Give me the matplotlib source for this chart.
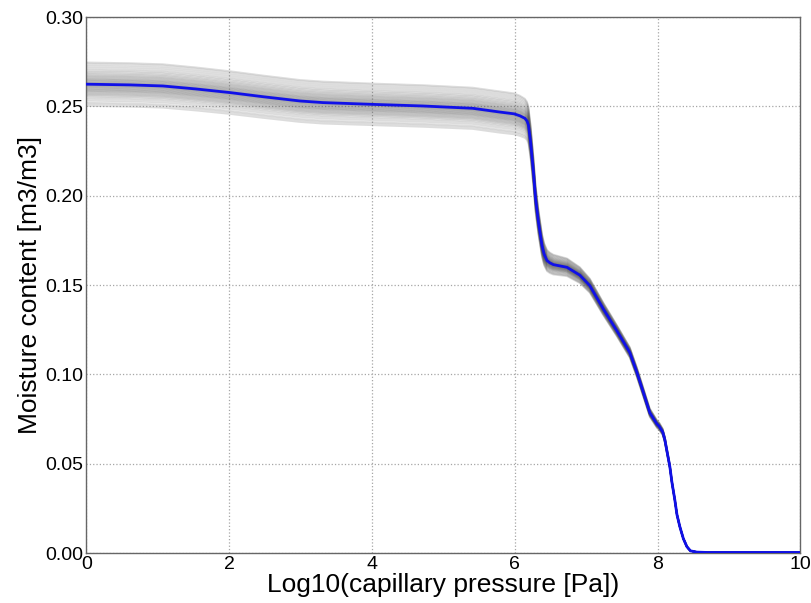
import matplotlib
matplotlib.use("Agg")
import matplotlib.pyplot as plt
import numpy as np

# Mean curve (log10 capillary pressure vs moisture content)
log_pc = [0.0, 0.61, 1.07, 1.54, 2.01, 2.47, 2.99, 3.31, 4.01, 4.71, 5.41, 5.79,
          5.99, 6.07, 6.14, 6.17, 6.19, 6.22, 6.26, 6.29, 6.33, 6.38, 6.41, 6.45,
          6.49, 6.54, 6.73, 6.91, 7.05, 7.24, 7.43, 7.61, 7.71, 7.80, 7.89, 7.99,
          8.02, 8.07, 8.10, 8.13, 8.17, 8.20, 8.24, 8.27, 8.31, 8.36, 8.41, 8.46,
          8.55, 8.70, 10.0]
mean_w = [0.2624, 0.2620, 0.2614, 0.2597, 0.2577, 0.2554, 0.2530, 0.2521, 0.2511,
          0.2502, 0.2489, 0.2468, 0.2458, 0.2447, 0.2433, 0.2418, 0.2395, 0.2302,
          0.2133, 0.1983, 0.1852, 0.1721, 0.1672, 0.1637, 0.1624, 0.1614, 0.1599,
          0.1555, 0.1496, 0.1365, 0.1243, 0.1122, 0.1010, 0.0898, 0.0785, 0.0722,
          0.0710, 0.0678, 0.0635, 0.0570, 0.0485, 0.0395, 0.0298, 0.0215, 0.0148,
          0.0080, 0.0035, 0.0012, 0.0005, 0.0003, 0.0003]
# Half-width of the ensemble envelope at each point
spread = [0.0122, 0.0122, 0.0122, 0.0121, 0.0120, 0.0119, 0.0118, 0.0118, 0.0117,
          0.0117, 0.0116, 0.0116, 0.0115, 0.0113, 0.0110, 0.0108, 0.0105, 0.0097,
          0.0088, 0.0080, 0.0073, 0.0066, 0.0063, 0.0060, 0.0058, 0.0056, 0.0050,
          0.0045, 0.0040, 0.0036, 0.0032, 0.0030, 0.0028, 0.0026, 0.0024, 0.0022,
          0.0021, 0.0019, 0.0017, 0.0014, 0.0012, 0.0010, 0.0008, 0.0006, 0.0004,
          0.0002, 0.0001, 0.0, 0.0, 0.0, 0.0]
# Relative offsets of the ensemble members within the envelope
member_offsets = [-1.0, -0.92, -0.85, -0.76, -0.68, -0.61, -0.55, -0.50, -0.46,
                  -0.42, -0.38, -0.34, -0.31, -0.28, -0.25, -0.22, -0.19, -0.16,
                  -0.13, -0.10, -0.08, -0.05, -0.03, 0.0, 0.02, 0.05, 0.07, 0.10,
                  0.13, 0.16, 0.19, 0.22, 0.25, 0.29, 0.33, 0.37, 0.41, 0.46,
                  0.51, 0.57, 0.63, 0.70, 0.78, 0.86, 0.94, 1.0]

x_ticks = [0, 2, 4, 6, 8, 10]
y_ticks = [0.00, 0.05, 0.10, 0.15, 0.20, 0.25, 0.30]

plt.rcParams['font.family'] = ['Liberation Sans', 'DejaVu Sans']

fig = plt.figure(figsize=(8.12, 6.03), dpi=100)
ax = fig.add_axes([0.1065, 0.0829, 0.8793, 0.8889])

x = np.array(log_pc)
m = np.array(mean_w)
s = np.array(spread)
for d in member_offsets:
    ax.plot(x, m + d * s, color='0.33', alpha=0.2, lw=1.2, zorder=2)

ax.plot(x, m, color='#1010e8', lw=2.0, zorder=3)

ax.set_xlim(0, 10)
ax.set_ylim(0, 0.30)
ax.set_xticks(x_ticks)
ax.set_yticks(y_ticks)
ax.set_xticklabels([str(t) for t in x_ticks])
ax.set_yticklabels([f"{t:.2f}" for t in y_ticks])
ax.tick_params(direction='in', length=0, labelsize=14, pad=2)
ax.grid(True, linestyle=':', color='0.65', lw=0.9)
ax.set_axisbelow(True)
for sp in ax.spines.values():
    sp.set_color('0.4')
    sp.set_linewidth(1.0)

ax.set_xlabel('Log10(capillary pressure [Pa])', fontsize=19, labelpad=0)
ax.set_ylabel('Moisture content [m3/m3]', fontsize=19, labelpad=3)

fig.savefig('out.png', dpi=100)
